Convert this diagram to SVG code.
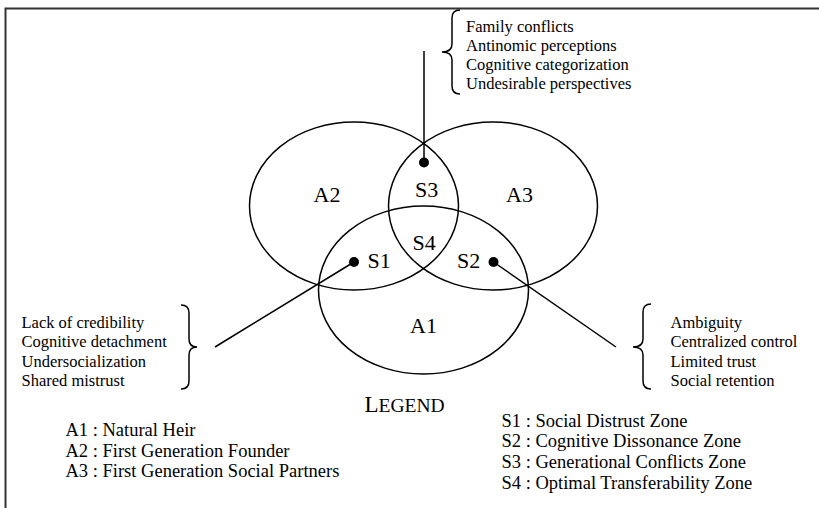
<svg xmlns="http://www.w3.org/2000/svg" width="819" height="508" viewBox="0 0 819 508">
<style>
text{font-family:"Liberation Serif","Times New Roman",serif;fill:#000}
.s{font-size:16.5px}
.lg{font-size:18.5px}
.lb{font-size:22px}
.c{fill:none;stroke:#000;stroke-width:1.5}
.ln{fill:none;stroke:#000;stroke-width:1.5}
.br{fill:none;stroke:#000;stroke-width:1.5}
</style>
<rect width="819" height="508" fill="#fff"/>
<path d="M5.5,508 V8.5 H819" fill="none" stroke="#333" stroke-width="2"/>
<g id="A2"><ellipse class="c" cx="354" cy="206" rx="104.5" ry="84"/><text class="lb" x="313.5" y="201.5">A2</text></g>
<g id="A3"><ellipse class="c" cx="493" cy="206" rx="104.5" ry="84"/><text class="lb" x="506" y="201.5">A3</text></g>
<g id="A1"><ellipse class="c" cx="423.5" cy="290" rx="105" ry="84"/><text class="lb" x="410" y="332.5">A1</text></g>
<g id="S3"><circle cx="424" cy="162.5" r="5"/><text class="lb" x="415" y="197">S3</text></g>
<g id="S4"><text class="lb" x="412.5" y="249.5">S4</text></g>
<g id="S1"><circle cx="354" cy="262" r="5"/><text class="lb" x="367.5" y="267.5">S1</text></g>
<g id="S2"><circle cx="493.5" cy="262" r="5"/><text class="lb" x="457" y="267.5">S2</text></g>
<g id="connectors">
<line class="ln" x1="424" y1="51" x2="424" y2="162"/>
<line class="ln" x1="354" y1="262" x2="215" y2="347"/>
<line class="ln" x1="493.5" y1="262" x2="616" y2="347"/>
</g>
<g id="top-note">
<path class="br" d="M460,10 Q452,10 452,18 L452,44 Q452,52 442,52 Q452,52 452,60 L452,86 Q452,94 460,94"/>
<text class="s" x="466" y="31.5">Family conflicts</text>
<text class="s" x="466" y="50.5">Antinomic perceptions</text>
<text class="s" x="466" y="69.5">Cognitive categorization</text>
<text class="s" x="466" y="88.5">Undesirable perspectives</text>
</g>
<g id="left-note">
<path class="br" d="M181,305 Q189,305 189,313 L189,339 Q189,347 197,347 Q189,347 189,355 L189,381 Q189,389 181,389"/>
<text class="s" x="21.5" y="328">Lack of credibility</text>
<text class="s" x="21.5" y="347.3">Cognitive detachment</text>
<text class="s" x="21.5" y="366.5">Undersocialization</text>
<text class="s" x="21.5" y="385.8">Shared mistrust</text>
</g>
<g id="right-note">
<path class="br" d="M651,304 Q643,304 643,312 L643,339 Q643,347 633,347 Q643,347 643,355 L643,381 Q643,389 651,389"/>
<text class="s" x="670.5" y="328">Ambiguity</text>
<text class="s" x="670.5" y="347.3">Centralized control</text>
<text class="s" x="670.5" y="366.5">Limited trust</text>
<text class="s" x="670.5" y="385.8">Social retention</text>
</g>
<g id="legend">
<text x="364.5" y="411.5"><tspan font-size="23">L</tspan><tspan font-size="19.5">EGEND</tspan></text>
<text class="lg" x="65.5" y="435.5">A1 : Natural Heir</text>
<text class="lg" x="65.5" y="456.5">A2 : First Generation Founder</text>
<text class="lg" x="65.5" y="477">A3 : First Generation Social Partners</text>
<text class="lg" x="501.5" y="426.5">S1 : Social Distrust Zone</text>
<text class="lg" x="501.5" y="447">S2 : Cognitive Dissonance Zone</text>
<text class="lg" x="501.5" y="468">S3 : Generational Conflicts Zone</text>
<text class="lg" x="501.5" y="489">S4 : Optimal Transferability Zone</text>
</g>
</svg>
